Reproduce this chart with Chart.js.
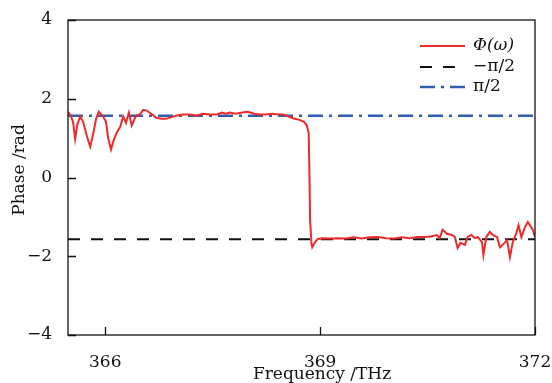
<!DOCTYPE html>
<html>
<head>
<meta charset="utf-8">
<script src="https://cdn.jsdelivr.net/npm/chart.js@4.4.1/dist/chart.umd.min.js"></script>
<style>
html,body{margin:0;padding:0;background:#fff;}
#wrap{width:552px;height:383px;}
</style>
</head>
<body>
<div id="wrap"><canvas id="phaseChart" width="552" height="383"></canvas></div>
<script>
const freq=[365.48,365.51,365.55,365.58,365.61,365.65,365.69,365.75,365.79,365.83,365.87,365.91,365.97,366.01,366.04,366.08,366.12,366.16,366.21,366.25,
    366.29,366.33,366.37,366.43,366.48,366.53,366.58,366.64,366.71,366.78,366.85,366.90,366.99,367.08,367.18,367.28,367.36,367.46,367.56,367.63,
    367.68,367.74,367.82,367.91,367.99,368.08,368.16,368.24,368.33,368.41,368.49,368.56,368.63,368.70,368.77,368.81,368.84,368.85,368.86,368.88,
    368.89,368.93,368.97,369.04,369.14,369.25,369.36,369.47,369.58,369.69,369.81,369.92,370.03,370.14,370.25,370.36,370.46,370.54,370.63,370.67,
    370.71,370.77,370.84,370.88,370.92,370.96,371.02,371.06,371.11,371.16,371.20,371.26,371.28,371.32,371.37,371.41,371.47,371.51,371.55,371.61,
    371.65,371.69,371.74,371.77,371.81,371.86,371.90,371.97,372.00];
const phase=[1.67,1.60,1.42,0.98,1.34,1.55,1.42,1.01,0.78,1.09,1.47,1.67,1.55,1.42,1.01,0.71,0.96,1.14,1.29,1.55,
    1.39,1.65,1.32,1.57,1.60,1.72,1.70,1.62,1.52,1.49,1.49,1.52,1.57,1.60,1.60,1.57,1.62,1.60,1.60,1.65,
    1.62,1.65,1.62,1.65,1.67,1.62,1.60,1.60,1.62,1.60,1.60,1.55,1.50,1.47,1.42,1.34,1.14,0.20,-1.08,-1.69,
    -1.77,-1.64,-1.56,-1.54,-1.55,-1.54,-1.55,-1.52,-1.55,-1.52,-1.51,-1.54,-1.55,-1.52,-1.54,-1.51,-1.51,-1.50,-1.46,-1.54,
    -1.33,-1.43,-1.46,-1.51,-1.79,-1.66,-1.71,-1.51,-1.46,-1.54,-1.51,-1.64,-1.97,-1.51,-1.38,-1.46,-1.51,-1.77,-1.71,-1.59,
    -2.02,-1.64,-1.41,-1.21,-1.51,-1.26,-1.13,-1.33,-1.51];
const refX=[365.48,372];
const plusHalfPi=[1.5708,1.5708];
const minusHalfPi=[-1.5708,-1.5708];
const xTicks=[366,369,372];
const yTicks=[-4,-2,0,2,4];
const seriesNames=["Φ(ω)","−π/2","π/2"];

const fontName="'DejaVu Serif', serif";

function toPoints(xs,ys){
    return xs.map((x,i)=>({x:x,y:ys[i]}));
}

const framePlugin={
    id:"framePlugin",
    afterDatasetsDraw(chart){
        const ctx=chart.ctx;
        const area=chart.chartArea;
        const xs=chart.scales.x;
        const ys=chart.scales.y;
        ctx.save();
        ctx.strokeStyle="#111";
        ctx.lineWidth=1.3;
        ctx.setLineDash([]);
        ctx.strokeRect(area.left,area.top,area.right-area.left,area.bottom-area.top);
        ctx.beginPath();
        xTicks.forEach(v=>{
            const px=Math.round(xs.getPixelForValue(v))+0.5;
            ctx.moveTo(px,area.bottom);
            ctx.lineTo(px,area.bottom-8);
        });
        yTicks.forEach(v=>{
            const py=Math.round(ys.getPixelForValue(v))+0.5;
            ctx.moveTo(area.left,py);
            ctx.lineTo(area.left+8,py);
        });
        ctx.stroke();

        // legend
        const rows=[46,67,87];
        chart.data.datasets.forEach((ds,i)=>{
            ctx.beginPath();
            ctx.strokeStyle=ds.borderColor;
            ctx.lineWidth=ds.borderWidth;
            ctx.setLineDash(ds.borderDash||[]);
            ctx.moveTo(420,rows[i]);
            ctx.lineTo(465,rows[i]);
            ctx.stroke();
            ctx.setLineDash([]);
            ctx.fillStyle="#111";
            ctx.font=(i===0?"italic ":"")+"17px "+fontName;
            ctx.textBaseline="middle";
            ctx.textAlign="left";
            ctx.fillText(seriesNames[i],473,rows[i]);
        });

        // axis titles
        ctx.font="17px "+fontName;
        ctx.textAlign="center";
        ctx.textBaseline="alphabetic";
        ctx.fillText("Frequency /THz",322,379);
        ctx.translate(24,170);
        ctx.rotate(-Math.PI/2);
        ctx.fillText("Phase /rad",0,0);
        ctx.restore();
    }
};

new Chart(document.getElementById("phaseChart"),{
    type:"line",
    data:{
        datasets:[{
            label:seriesNames[0],
            data:toPoints(freq,phase),
            borderColor:"#f02a2a",
            borderWidth:2,
            pointRadius:0,
            tension:0
        },{
            label:seriesNames[1],
            data:toPoints(refX,minusHalfPi),
            borderColor:"#111",
            borderWidth:2,
            borderDash:[12,11],
            pointRadius:0
        },{
            label:seriesNames[2],
            data:toPoints(refX,plusHalfPi),
            borderColor:"#2f5fae",
            borderWidth:2.5,
            borderDash:[15,6,3,6],
            pointRadius:0
        }]
    },
    options:{
        responsive:false,
        animation:false,
        layout:{padding:{left:0,top:20,right:17,bottom:0}},
        plugins:{legend:{display:false},tooltip:{enabled:false}},
        scales:{
            x:{
                type:"linear",
                min:365.48,
                max:372,
                afterBuildTicks:s=>{s.ticks=xTicks.map(v=>({value:v}));},
                afterFit:s=>{s.height=48;s.paddingLeft=0;s.paddingRight=0;},
                grid:{display:false},
                border:{display:false},
                ticks:{color:"#111",padding:9,maxRotation:0,font:{family:fontName,size:17},callback:v=>String(v)}
            },
            y:{
                min:-4,
                max:4,
                afterBuildTicks:s=>{s.ticks=yTicks.map(v=>({value:v}));},
                afterFit:s=>{s.width=68;s.paddingTop=0;s.paddingBottom=0;},
                grid:{display:false},
                border:{display:false},
                ticks:{color:"#111",padding:8,font:{family:fontName,size:17},callback:v=>v<0?"−"+Math.abs(v):String(v)}
            }
        }
    },
    plugins:[framePlugin]
});
</script>
</body>
</html>
